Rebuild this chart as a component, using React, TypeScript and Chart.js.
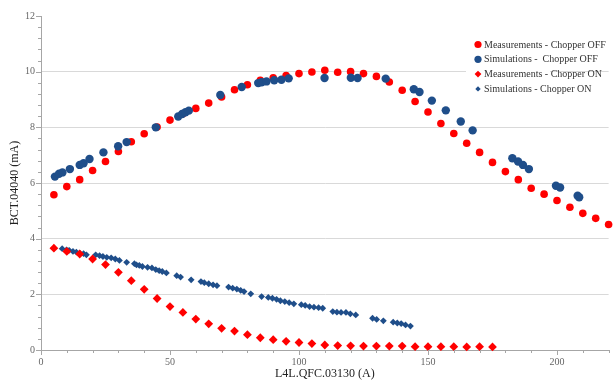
import React, { useEffect, useRef } from "react";
import { Chart, registerables } from "chart.js";

Chart.register(...registerables);

// ---- Data ----
const measOffX = [5, 10, 15, 20, 25, 30, 35, 40, 45, 50, 55, 60, 65, 70, 75, 80, 85, 90, 95, 100, 105, 110, 115, 120, 125, 130, 135, 140, 145, 150, 155, 160, 165, 170, 175, 180, 185, 190, 195, 200, 205, 210, 215, 220];
const measOffY = [5.58, 5.87, 6.12, 6.45, 6.77, 7.13, 7.48, 7.77, 8.01, 8.26, 8.49, 8.68, 8.87, 9.09, 9.35, 9.53, 9.69, 9.78, 9.86, 9.93, 9.99, 10.05, 9.98, 10.0, 9.93, 9.83, 9.63, 9.33, 8.93, 8.55, 8.14, 7.78, 7.43, 7.1, 6.74, 6.41, 6.12, 5.81, 5.6, 5.37, 5.13, 4.91, 4.73, 4.51];

const simOffX = [5.4, 7.0, 8.3, 11.2, 15.0, 16.5, 18.8, 24.2, 29.9, 33.2, 44.5, 53.2, 54.7, 56.0, 57.3, 69.5, 77.8, 84.2, 85.5, 87.4, 90.4, 93.2, 96.0, 109.9, 120.1, 122.7, 133.6, 144.5, 146.7, 151.5, 156.9, 162.7, 167.3, 182.7, 184.9, 186.8, 189.1, 199.6, 201.2, 208.0, 208.6];
const simOffY = [6.23, 6.33, 6.38, 6.5, 6.65, 6.71, 6.86, 7.1, 7.32, 7.47, 8.0, 8.39, 8.48, 8.54, 8.6, 9.16, 9.45, 9.59, 9.62, 9.65, 9.69, 9.71, 9.76, 9.77, 9.78, 9.77, 9.75, 9.37, 9.27, 8.96, 8.61, 8.21, 7.89, 6.89, 6.77, 6.65, 6.5, 5.9, 5.84, 5.54, 5.49];

const measOnX = [5, 10, 15, 20, 25, 30, 35, 40, 45, 50, 55, 60, 65, 70, 75, 80, 85, 90, 95, 100, 105, 110, 115, 120, 125, 130, 135, 140, 145, 150, 155, 160, 165, 170, 175];
const measOnY = [3.66, 3.54, 3.45, 3.27, 3.07, 2.79, 2.49, 2.18, 1.85, 1.56, 1.35, 1.11, 0.94, 0.78, 0.68, 0.55, 0.44, 0.37, 0.31, 0.27, 0.23, 0.18, 0.16, 0.15, 0.14, 0.14, 0.14, 0.14, 0.12, 0.12, 0.12, 0.12, 0.11, 0.12, 0.11];

const simOnX = [8.2, 9.9, 10.9, 12.4, 13.7, 15, 16.5, 17.6, 21.2, 22.7, 24, 25.5, 27.2, 28.8, 30.4, 33.2, 36.2, 37, 38.1, 39.3, 41.3, 43, 44.5, 45.8, 47, 48.6, 52.6, 54.1, 58.2, 62, 63.3, 65, 66.7, 68.2, 72.7, 74.3, 75.9, 77.4, 78.7, 81.3, 85.5, 88.1, 89.7, 91.3, 92.8, 94.5, 96.2, 98, 100.9, 102.4, 104.1, 105.8, 107.6, 109.2, 113.1, 114.7, 116.3, 118.2, 119.9, 122, 128.5, 130.1, 132.7, 136.5, 138.1, 139.6, 141.3, 143.2];
const simOnY = [3.64, 3.6, 3.58, 3.54, 3.52, 3.48, 3.46, 3.42, 3.42, 3.39, 3.36, 3.33, 3.31, 3.27, 3.22, 3.15, 3.1, 3.06, 3.04, 3.0, 2.97, 2.95, 2.89, 2.85, 2.82, 2.77, 2.67, 2.62, 2.52, 2.46, 2.42, 2.38, 2.34, 2.31, 2.26, 2.22, 2.19, 2.14, 2.1, 2.02, 1.92, 1.89, 1.86, 1.82, 1.77, 1.74, 1.7, 1.66, 1.63, 1.6, 1.56, 1.54, 1.52, 1.5, 1.38, 1.36, 1.35, 1.35, 1.3, 1.26, 1.14, 1.1, 1.05, 1.0, 0.97, 0.95, 0.9, 0.86];

const seriesLabels = [
  "Measurements - Chopper OFF",
  "Simulations -  Chopper OFF",
  "Measurements - Chopper ON",
  "Simulations - Chopper ON",
];

const xTitle = "L4L.QFC.03130 (A)";
const yTitle = "BCT.04040 (mA)";
const xMin = 0, xMax = 220, xStep = 50, xMinorStep = 10;
const yMin = 0, yMax = 12, yStep = 2, yMinorStep = 0.4;

const RED = "#FF0000";
const BLUE = "#1F4E8A";
const SERIF = "'Liberation Serif', 'Times New Roman', serif";

const zip = (xs: number[], ys: number[]) => xs.map((x, i) => ({ x, y: ys[i] }));

const axisPlugin = {
  id: "minorTicksAndLegend",
  afterDraw(chart: any) {
    const { ctx, scales, chartArea } = chart;
    const x = scales.x, y = scales.y;
    ctx.save();
    ctx.strokeStyle = "#a6a6a6";
    ctx.lineWidth = 1;
    ctx.beginPath();
    for (let v = xMin; v <= xMax + 1e-6; v += xMinorStep) {
      const px = Math.round(x.getPixelForValue(v)) + 0.5;
      const len = Math.abs(v % xStep) < 1e-6 ? 5 : 3;
      ctx.moveTo(px, chartArea.bottom);
      ctx.lineTo(px, chartArea.bottom + len);
    }
    for (let k = 0; k * yMinorStep <= yMax + 1e-6; k++) {
      const v = k * yMinorStep;
      const py = Math.round(y.getPixelForValue(v)) + 0.5;
      const isMajor = Math.abs(v / yStep - Math.round(v / yStep)) < 1e-6;
      const len = isMajor ? 5 : 3;
      ctx.moveTo(chartArea.left, py);
      ctx.lineTo(chartArea.left - len, py);
    }
    ctx.stroke();

    // legend
    ctx.fillStyle = "#ffffff";
    ctx.fillRect(466, 36, 84, 60);
    const styles = [
      { color: RED, shape: "circle", r: 3.6 },
      { color: BLUE, shape: "circle", r: 3.6 },
      { color: RED, shape: "diamond", r: 3.4 },
      { color: BLUE, shape: "diamond", r: 2.7 },
    ];
    ctx.font = `10px ${SERIF}`;
    ctx.textBaseline = "middle";
    ctx.textAlign = "left";
    seriesLabels.forEach((lab, i) => {
      const cy = 44.5 + i * 14.8;
      const cx = 478;
      const s = styles[i];
      ctx.fillStyle = s.color;
      ctx.beginPath();
      if (s.shape === "circle") {
        ctx.arc(cx, cy, s.r, 0, Math.PI * 2);
      } else {
        ctx.moveTo(cx, cy - s.r);
        ctx.lineTo(cx + s.r, cy);
        ctx.lineTo(cx, cy + s.r);
        ctx.lineTo(cx - s.r, cy);
        ctx.closePath();
      }
      ctx.fill();
      ctx.fillStyle = "#333";
      ctx.fillText(lab, 484, cy + 0.5);
    });
    ctx.restore();
  },
};

export default function App() {
  const ref = useRef<HTMLCanvasElement | null>(null);
  useEffect(() => {
    if (!ref.current) return;
    const chart = new Chart(ref.current, {
      type: "scatter",
      data: {
        datasets: [
          {
            label: seriesLabels[0],
            data: zip(measOffX, measOffY),
            backgroundColor: RED,
            borderColor: RED,
            pointRadius: 3.8,
            pointStyle: "circle",
            borderWidth: 0,
            order: 3,
            clip: false as any,
          },
          {
            label: seriesLabels[1],
            data: zip(simOffX, simOffY),
            backgroundColor: BLUE,
            borderColor: BLUE,
            pointRadius: 4.2,
            pointStyle: "circle",
            borderWidth: 0,
            order: 2,
            clip: false as any,
          },
          {
            label: seriesLabels[2],
            data: zip(measOnX, measOnY),
            backgroundColor: RED,
            borderColor: RED,
            pointRadius: 4.4,
            pointStyle: "rectRot",
            borderWidth: 0,
            order: 0,
            clip: false as any,
          },
          {
            label: seriesLabels[3],
            data: zip(simOnX, simOnY),
            backgroundColor: BLUE,
            borderColor: BLUE,
            pointRadius: 3.4,
            pointStyle: "rectRot",
            borderWidth: 0,
            order: 1,
            clip: false as any,
          },
        ],
      },
      options: {
        responsive: false,
        animation: false,
        layout: { padding: { top: 16, right: 0, bottom: 0, left: 0 } },
        plugins: {
          legend: { display: false },
          tooltip: { enabled: false },
        },
        scales: {
          x: {
            type: "linear",
            min: xMin,
            max: xMax,
            afterBuildTicks: (s: any) => {
              s.ticks = s.ticks.filter((t: any) => Math.abs(t.value % xStep) < 1e-6);
            },
            ticks: {
              stepSize: xStep,
              color: "#666",
              font: { family: SERIF, size: 10 },
              padding: 6,
            },
            grid: { display: false, drawTicks: false },
            border: { display: true, color: "#a6a6a6" },
            title: {
              display: true,
              text: xTitle,
              color: "#222",
              font: { family: SERIF, size: 12 },
              padding: { top: 0, bottom: 0 },
            },
            afterFit: (s: any) => {
              s.height = 31;
            },
          },
          y: {
            type: "linear",
            min: yMin,
            max: yMax,
            ticks: {
              stepSize: yStep,
              color: "#666",
              font: { family: SERIF, size: 10 },
              padding: 6,
            },
            grid: {
              drawTicks: false,
              color: (c: any) =>
                c.tick && (c.tick.value === yMin || c.tick.value === yMax) ? "rgba(0,0,0,0)" : "#d9d9d9",
            },
            border: { display: true, color: "#a6a6a6" },
            title: {
              display: true,
              text: yTitle,
              color: "#222",
              font: { family: SERIF, size: 12 },
              padding: { top: 8, bottom: 0 },
            },
            afterFit: (s: any) => {
              s.width = 41;
            },
          },
        },
      },
      plugins: [axisPlugin],
    });
    return () => chart.destroy();
  }, []);
  return (
    <div style={{ position: "fixed", left: 0, top: 0, width: 613, height: 381, background: "#fff" }}>
      <canvas ref={ref} width={613} height={381} />
    </div>
  );
}
